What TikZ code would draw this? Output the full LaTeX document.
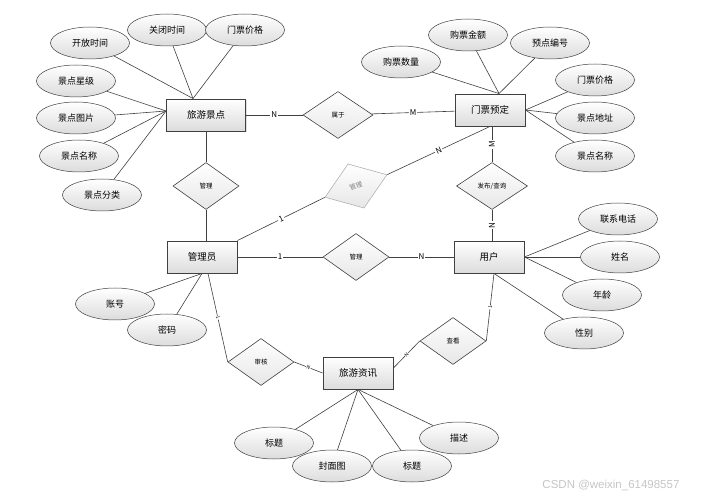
\documentclass[tikz,border=0pt]{standalone}
\usepackage{fontspec}
\usepackage{xcolor}
\usepackage{tikz}
\usetikzlibrary{shapes.geometric,shadows}
\newfontfamily\cjk{Noto Sans CJK SC}
\newfontfamily\marcafont{Liberation Sans}
\definecolor{GrisLinea}{RGB}{64,64,64}
\definecolor{GrisClaro}{RGB}{178,178,178}
\definecolor{GrisRelleno}{RGB}{220,220,220}

\begin{document}
\begin{tikzpicture}[x=1pt,y=-1pt,
  entidad/.style={draw=GrisLinea,line width=0.9pt,top color=white,bottom color=GrisRelleno,
    minimum width=70pt,minimum height=32pt,inner sep=0pt,font=\cjk\fontsize{9.5}{11}\selectfont,
    drop shadow={shadow xshift=1pt,shadow yshift=-1pt,opacity=0.25}},
  atributo/.style={ellipse,draw=GrisLinea,line width=0.5pt,top color=white,bottom color=GrisRelleno,
    minimum width=79pt,minimum height=32pt,inner sep=0pt,font=\cjk\fontsize{9}{11}\selectfont},
  relacion/.style={diamond,aspect=1.4,draw=GrisLinea,line width=0.6pt,top color=white,bottom color=GrisRelleno!70,
    minimum width=66pt,minimum height=47pt,inner sep=0pt,font=\cjk\fontsize{6.5}{8}\selectfont},
  card/.style={fill=white,inner sep=1pt,font=\cjk\fontsize{8}{9}\selectfont},
  cardpeq/.style={fill=white,inner sep=0.5pt,font=\cjk\fontsize{5}{6}\selectfont},
  liga/.style={draw=GrisLinea,line width=0.6pt}]
  \fill[white] (0,0) rectangle (705,497);
  \node[entidad,minimum width=79pt] (lyjd) at (206,115) {旅游景点};
  \node[entidad] (mpyd) at (490,110) {门票预定};
  \node[entidad] (gly) at (202,257) {管理员};
  \node[entidad] (yh) at (489,257) {用户};
  \node[entidad] (lyzx) at (358,373) {旅游资讯};
  \node[relacion,minimum width=70pt] (sy) at (338,115) {属于};
  \node[relacion] (gl1) at (206,186) {管理};
  \node[relacion,rotate=20,draw=GrisClaro,text=gray] (gl2) at (356,186) {管理};
  \node[relacion] (gl3) at (356,257) {管理};
  \node[relacion,minimum width=71pt] (fbcx) at (492,186) {发布/查询};
  \node[relacion] (shh) at (261,362) {审核};
  \node[relacion] (ck) at (453,341) {查看};
  \node[atributo] (kfsj) at (90,43) {开放时间};
  \node[atributo] (gbsj) at (167,30) {关闭时间};
  \node[atributo] (mpjg1) at (245,30) {门票价格};
  \node[atributo] (jdxj) at (76,81) {景点星级};
  \node[atributo] (jdtp) at (76,118) {景点图片};
  \node[atributo] (jdmc1) at (79,156) {景点名称};
  \node[atributo] (jdfl) at (102,195) {景点分类};
  \node[atributo] (gpsl) at (401,62) {购票数量};
  \node[atributo] (gpje) at (468,35) {购票金额};
  \node[atributo] (ydbh) at (550,43) {预点编号};
  \node[atributo] (mpjg2) at (595,80) {门票价格};
  \node[atributo] (jddz) at (595,118) {景点地址};
  \node[atributo] (jdmc2) at (595,156) {景点名称};
  \node[atributo] (zh) at (115,304) {账号};
  \node[atributo] (mm) at (167,330) {密码};
  \node[atributo] (lxdh) at (618,219) {联系电话};
  \node[atributo] (xm) at (620,257) {姓名};
  \node[atributo] (nl) at (602,295) {年龄};
  \node[atributo] (xb) at (584,333) {性别};
  \node[atributo] (bt1) at (274,443) {标题};
  \node[atributo] (fmt) at (332,466) {封面图};
  \node[atributo] (bt2) at (412,466) {标题};
  \node[atributo] (ms) at (459,438) {描述};
  \node[font=\marcafont\fontsize{11.5}{13}\selectfont,text=gray!45,anchor=east] (marca) at (683,485) {CSDN @weixin\_61498557};
  \draw[liga] (kfsj) -- ([xshift=-13pt]lyjd.north);
  \draw[liga] (gbsj) -- ([xshift=-13pt]lyjd.north);
  \draw[liga] (mpjg1) -- ([xshift=-13pt]lyjd.north);
  \draw[liga] (jdxj) -- ([yshift=4pt]lyjd.west);
  \draw[liga] (jdtp) -- ([yshift=4pt]lyjd.west);
  \draw[liga] (jdmc1) -- ([yshift=4pt]lyjd.west);
  \draw[liga] (jdfl) -- ([yshift=4pt]lyjd.west);
  \draw[liga] (gpsl) -- ([xshift=9pt]mpyd.north);
  \draw[liga] (gpje) -- ([xshift=9pt]mpyd.north);
  \draw[liga] (ydbh) -- ([xshift=9pt]mpyd.north);
  \draw[liga] (mpjg2) -- (mpyd.east);
  \draw[liga] (jddz) -- (mpyd.east);
  \draw[liga] (jdmc2) -- (mpyd.east);
  \draw[liga] (zh) -- (gly.south);
  \draw[liga] (mm) -- (gly.south);
  \draw[liga] (lxdh) -- (yh.east);
  \draw[liga] (xm) -- (yh.east);
  \draw[liga] (nl) -- (yh.east);
  \draw[liga] (xb) -- ([xshift=5pt]yh.south);
  \draw[liga] (bt1) -- (lyzx.south);
  \draw[liga] (fmt) -- (lyzx.south);
  \draw[liga] (bt2) -- (lyzx.south);
  \draw[liga] (ms) -- (lyzx.south);
  \draw[liga] (lyjd) -- node[card] {N} (sy);
  \draw[liga] (sy) -- node[card] {M} (mpyd);
  \draw[liga] (gl1.north) -- (gl1.north |- lyjd.south);
  \draw[liga] (gl1.south) -- (gl1.south |- gly.north);
  \draw[liga] (gly.north east) -- node[card,sloped] {1} (gl2.west);
  \draw[liga] (gl2.east) -- node[card,sloped] {N} (mpyd.south);
  \draw[liga] (fbcx.north |- mpyd.south) -- node[card,rotate=90] {M} (fbcx.north);
  \draw[liga] (fbcx.south) -- node[card,rotate=90] {N} (fbcx.south |- yh.north);
  \draw[liga] (gly) -- node[card] {1} (gl3);
  \draw[liga] (gl3) -- node[card] {N} (yh);
  \draw[liga] ([xshift=6pt]gly.south) -- node[cardpeq,sloped] {1} (shh.west);
  \draw[liga] (shh.east) -- node[cardpeq,sloped] {N} (lyzx.west);
  \draw[liga] ([yshift=5pt]lyzx.east) -- node[cardpeq,sloped] {N} (ck.west);
  \draw[liga] (ck.east) -- node[cardpeq,sloped] {1} ([xshift=5pt]yh.south);
\end{tikzpicture}
\end{document}
